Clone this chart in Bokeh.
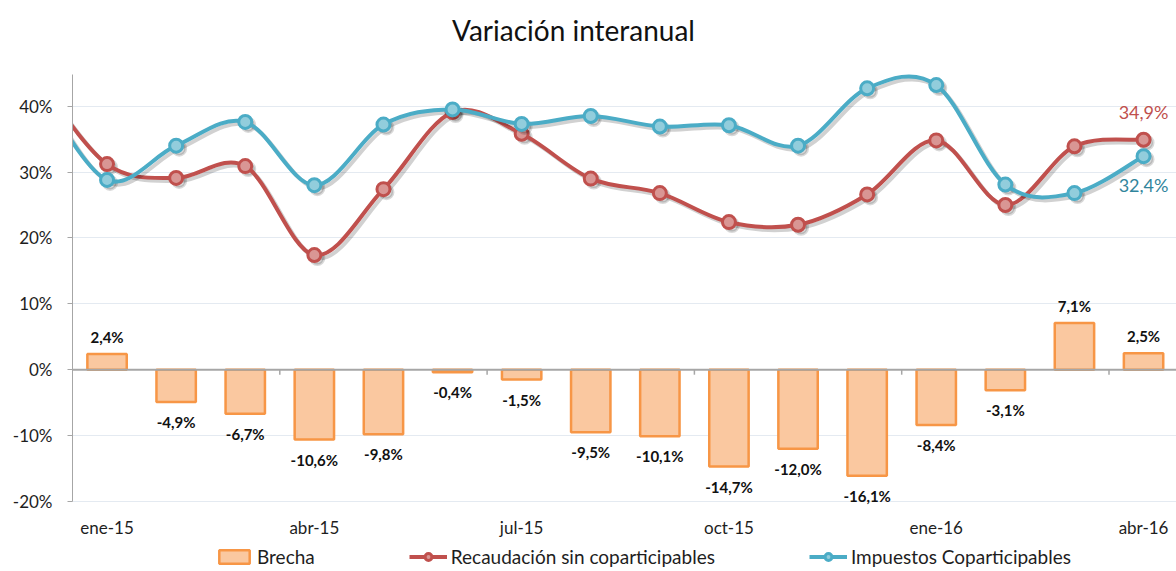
import numpy as np
from bokeh.plotting import figure
from bokeh.models import (ColumnDataSource, Range1d, FixedTicker, PrintfTickFormatter,
                          Legend, LegendItem, Span, Label)
from bokeh.core.properties import value
from bokeh.embed import file_html
from bokeh.resources import INLINE

# ---------------- data ----------------
months = ["ene-15", "feb-15", "mar-15", "abr-15", "may-15", "jun-15", "jul-15", "ago-15",
          "sep-15", "oct-15", "nov-15", "dic-15", "ene-16", "feb-16", "mar-16", "abr-16"]
brecha = [2.4, -4.9, -6.7, -10.6, -9.8, -0.4, -1.5, -9.5, -10.1, -14.7, -12.0, -16.1,
          -8.4, -3.1, 7.1, 2.5]
recaudacion = [31.2, 29.1, 30.9, 17.4, 27.4, 39.1, 35.8, 29.0, 26.8, 22.4, 22.0, 26.6,
               34.8, 25.0, 33.9, 34.9]
impuestos = [28.8, 34.0, 37.6, 28.0, 37.2, 39.5, 37.3, 38.5, 36.9, 37.1, 34.0, 42.7,
             43.2, 28.1, 26.8, 32.4]
# previous month (dic-14): the lines enter the plot from the left edge
recaudacion_prev = 44.1
impuestos_prev = 42.9
label_months = [0, 3, 6, 9, 12, 15]
y_ticks = [-20, -10, 0, 10, 20, 30, 40]
title_text = "Variación interanual"

# ---------------- style ----------------
RED, RED_FILL = "#C0504D", "#D99694"
BLUE, BLUE_FILL = "#4BACC6", "#92CDDC"
BAR_LINE, BAR_FILL = "#F79646", "#FAC8A0"
AXIS_GREY = "#A6A6A6"
TEXT = "#1E1E1E"
FONT = value("Lato")

W, H = 1176, 571
LEFT = 72
PLOT_TOP, PLOT_BOTTOM = 74, 501          # pixel rows of the value axis ends
FW = W - LEFT
PX_PER_MONTH = 69.1
X0 = -0.5
X1 = X0 + FW / PX_PER_MONTH
AX0, AX1 = -20, 44.8                      # visible value-axis extent
px_y = (PLOT_BOTTOM - PLOT_TOP) / (AX1 - AX0)
px_x = PX_PER_MONTH
Y0 = AX0 - (H - PLOT_BOTTOM) / px_y
Y1 = AX1 + PLOT_TOP / px_y

p = figure(width=W, height=H, output_backend="svg", toolbar_location=None, title=None,
           x_range=Range1d(X0, X1), y_range=Range1d(Y0, Y1),
           min_border_left=LEFT, min_border_right=0, min_border_top=0,
           min_border_bottom=0, outline_line_color=None,
           background_fill_color="white", border_fill_color="white")

# title
p.add_layout(Label(x=501, y=H - 29, x_units="screen", y_units="screen", text=title_text,
                   text_align="center", text_baseline="middle", text_font="Lato",
                   text_font_size="28px", text_color="#111111"))

# grid
p.xgrid.visible = False
p.ygrid.ticker = FixedTicker(ticks=y_ticks)
p.ygrid.grid_line_color = "#E4EAF1"
p.ygrid.grid_line_width = 1

# y axis
p.yaxis.ticker = FixedTicker(ticks=y_ticks)
p.yaxis.bounds = (AX0, AX1)
p.yaxis.formatter = PrintfTickFormatter(format="%d%%")
p.yaxis.axis_line_color = AXIS_GREY
p.yaxis.major_tick_line_color = AXIS_GREY
p.yaxis.major_tick_in = 0
p.yaxis.major_tick_out = 5
p.yaxis.minor_tick_line_color = None
p.yaxis.major_label_standoff = 15
p.yaxis.major_label_text_font = "Lato"
p.yaxis.major_label_text_font_size = "17px"
p.yaxis.major_label_text_color = TEXT

# x axis (labels only, under the -20% line)
x = np.arange(len(months))
p.xaxis.fixed_location = AX0
p.xaxis.ticker = FixedTicker(ticks=label_months)
p.xaxis.major_label_overrides = {i: months[i] for i in label_months}
p.xaxis.axis_line_color = None
p.xaxis.major_tick_line_color = None
p.xaxis.minor_tick_line_color = None
p.xaxis.major_label_standoff = 9
p.xaxis.major_label_text_font = "Lato"
p.xaxis.major_label_text_font_size = "17px"
p.xaxis.major_label_text_color = TEXT

# ---------------- bars ----------------
bar_src = ColumnDataSource(dict(
    x=x, top=brecha,
    label=[f"{v:.1f}%".replace(".", ",") for v in brecha],
    off=[-17 if v >= 0 else 20 for v in brecha]))
bars = p.vbar(x="x", top="top", bottom=0, width=0.57, source=bar_src,
              fill_color=BAR_FILL, line_color=BAR_LINE, line_width=2.5)
p.text(x="x", y="top", text="label", y_offset="off", source=bar_src,
       text_align="center", text_baseline="middle", text_font=FONT,
       text_font_size="15px", text_font_style="bold", text_color="#111111")

# category axis line crossing at 0, with tick marks between quarters
p.add_layout(Span(location=0, dimension="width", line_color=AXIS_GREY, line_width=2))
qb = [i - 0.5 for i in label_months[1:]]
p.segment(x0=qb, x1=qb, y0=[0] * len(qb), y1=[-5 / px_y] * len(qb),
          line_color=AXIS_GREY, line_width=1.5)


# ---------------- smoothed lines ----------------
def smooth_segments(xs, ys, dx=0.0, dy=0.0):
    pts = list(zip(xs, ys))
    n = len(pts)
    d = dict(x0=[], y0=[], x1=[], y1=[], cx0=[], cy0=[], cx1=[], cy1=[])
    for i in range(n - 1):
        p0 = pts[i - 1] if i > 0 else pts[i]
        p1, p2 = pts[i], pts[i + 1]
        p3 = pts[i + 2] if i + 2 < n else pts[i + 1]
        d["x0"].append(p1[0] + dx); d["y0"].append(p1[1] + dy)
        d["x1"].append(p2[0] + dx); d["y1"].append(p2[1] + dy)
        d["cx0"].append(p1[0] + (p2[0] - p0[0]) / 6 + dx)
        d["cy0"].append(p1[1] + (p2[1] - p0[1]) / 6 + dy)
        d["cx1"].append(p2[0] - (p3[0] - p1[0]) / 6 + dx)
        d["cy1"].append(p2[1] - (p3[1] - p1[1]) / 6 + dy)
    return ColumnDataSource(d)


sdx, sdy = 3 / px_x, -3 / px_y
xs_full = [-1] + list(x)
renderers = {}
for name, vals, prev, col, fill in [("red", recaudacion, recaudacion_prev, RED, RED_FILL),
                                     ("blue", impuestos, impuestos_prev, BLUE, BLUE_FILL)]:
    ys_full = [prev] + list(vals)
    p.bezier(x0="x0", y0="y0", x1="x1", y1="y1", cx0="cx0", cy0="cy0", cx1="cx1", cy1="cy1",
             source=smooth_segments(xs_full, ys_full, sdx, sdy),
             line_color="black", line_alpha=0.18, line_width=4, line_cap="round")
    p.scatter(x=x + sdx, y=np.array(vals) + sdy, size=13, fill_color="black",
              fill_alpha=0.15, line_color="black", line_alpha=0.15, line_width=3)
    p.bezier(x0="x0", y0="y0", x1="x1", y1="y1", cx0="cx0", cy0="cy0", cx1="cx1", cy1="cy1",
             source=smooth_segments(xs_full, ys_full),
             line_color=col, line_width=4, line_cap="round")
    mk = p.scatter(x=x, y=vals, size=13, fill_color=fill, line_color=col, line_width=3)
    # legend-only line sample (one undefined point, draws nothing in the plot)
    leg_line = p.line(x=[np.nan], y=[np.nan], line_color=col, line_width=4)
    renderers[name] = (leg_line, mk)

# labels of the last values
last = len(months) - 1
p.text(x=[x[last]], y=[recaudacion[last]],
       text=[f"{recaudacion[last]:.1f}%".replace(".", ",")], y_offset=-28,
       text_align="center", text_baseline="middle", text_font=FONT,
       text_font_size="18px", text_color=RED)
p.text(x=[x[last]], y=[impuestos[last]],
       text=[f"{impuestos[last]:.1f}%".replace(".", ",")], y_offset=29,
       text_align="center", text_baseline="middle", text_font=FONT,
       text_font_size="18px", text_color="#31859C")

# ---------------- legend ----------------
legend = Legend(items=[
    LegendItem(label="Brecha", renderers=[bars]),
    LegendItem(label="Recaudación sin coparticipables", renderers=list(renderers["red"])),
    LegendItem(label="Impuestos Coparticipables", renderers=list(renderers["blue"])),
], orientation="horizontal", location=(143, 3), spacing=94, glyph_width=38,
    glyph_height=17, label_standoff=4, padding=0, margin=0,
    border_line_color=None, background_fill_alpha=0,
    label_text_font="Lato", label_text_font_size="19px", label_text_color=TEXT)
p.add_layout(legend, "center")

open("out.html", "w").write(file_html(p, INLINE))
